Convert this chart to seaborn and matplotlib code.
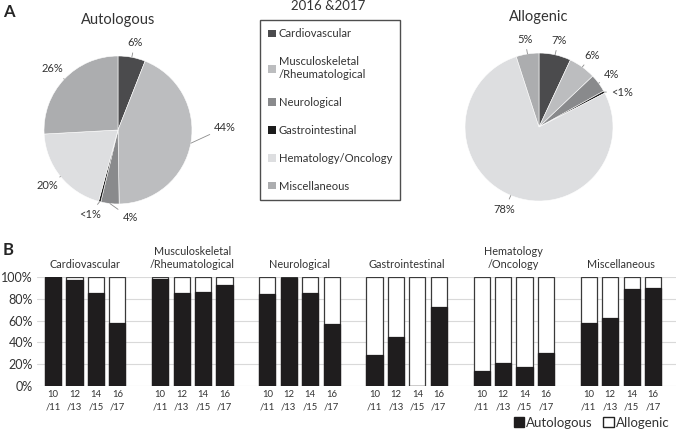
import numpy as np
import pandas as pd
import matplotlib
matplotlib.use("Agg")
import matplotlib.pyplot as plt
import matplotlib.transforms as mtransforms
from matplotlib.patches import Patch
import seaborn as sns

# ---- data ----
legend_labels = ["Cardiovascular", "Musculoskeletal\n/Rheumatological", "Neurological",
                 "Gastrointestinal", "Hematology/Oncology", "Miscellaneous"]
pie_colors = ["#4b4b4d", "#bcbdbf", "#898a8c", "#1c1c1c", "#dddee0", "#acadaf"]

auto_share = [6, 44, 4, 0.5, 20, 26]
auto_text = ["6%", "44%", "4%", "<1%", "20%", "26%"]
allo_share = [7, 6, 4, 0.5, 78, 5]
allo_text = ["7%", "6%", "4%", "<1%", "78%", "5%"]

periods = ["10\n/11", "12\n/13", "14\n/15", "16\n/17"]
group_titles = ["Cardiovascular", "Musculoskeletal\n/Rheumatological", "Neurological",
                "Gastrointestinal", "Hematology\n/Oncology", "Miscellaneous"]
# autologous share per period (allogenic = rest)
cardio = [1.00, 0.97, 0.85, 0.58]
musculo = [0.985, 0.85, 0.86, 0.93]
neuro = [0.84, 0.99, 0.85, 0.57]
gastro = [0.28, 0.45, 0.0, 0.725]
heme = [0.135, 0.21, 0.17, 0.30]
misc = [0.58, 0.62, 0.89, 0.90]

sns.set_theme(style="white")
plt.rcParams["font.family"] = ["Lato", "DejaVu Sans"]
txt_col = "#333333"

fig = plt.figure(figsize=(6.76, 4.29), dpi=100)


# Function to draw one pie with leader-line labels
def draw_pie(rect, shares, texts, title, nudges, radii):
    ax = fig.add_axes(rect)
    wedges, _ = ax.pie(shares, colors=pie_colors, startangle=90, counterclock=False,
                       wedgeprops=dict(edgecolor="white", linewidth=0.4))
    ax.set_aspect("equal")
    for w, t, dn, r in zip(wedges, texts, nudges, radii):
        ang = np.deg2rad((w.theta1 + w.theta2) / 2)
        ang_t = ang + np.deg2rad(dn)
        x0, y0 = np.cos(ang), np.sin(ang)
        x1, y1 = r * np.cos(ang_t), 1.2 * np.sin(ang_t)
        ax.annotate(t, xy=(x0, y0), xytext=(x1, y1), fontsize=8, color=txt_col,
                    ha="center", va="center",
                    arrowprops=dict(arrowstyle="-", color="#8c8c8c", lw=0.6,
                                    shrinkA=1, shrinkB=0))
    ax.text(0, 1.49, title, ha="center", va="center", fontsize=10.5, color=txt_col)
    return ax


draw_pie([0.0377, 0.4814, 0.2737, 0.4312], auto_share, auto_text, "Autologous",
         [0, 12, 14, -4, 0, 0], [1.22, 1.45, 1.22, 1.22, 1.22, 1.22])
draw_pie([0.6605, 0.4883, 0.2737, 0.4312], allo_share, allo_text, "Allogenic",
         [0, 0, 0, -5, 0, 0], [1.22] * 6)

# legend box in the middle
handles = [Patch(facecolor=c, edgecolor="none") for c in pie_colors]
leg = fig.legend(handles, legend_labels, loc="upper left",
                 bbox_to_anchor=(260 / 676, 1 - 20 / 429), fontsize=8.1,
                 labelspacing=1.5, handlelength=0.65, handleheight=0.65,
                 handletextpad=0.25, borderpad=0.75, frameon=True, fancybox=False,
                 borderaxespad=0)
leg.get_frame().set_edgecolor("#222222")
leg.get_frame().set_linewidth(1.0)
for t in leg.get_texts():
    t.set_color(txt_col)
fig.text(328 / 676, 1 - 6 / 429, "2016 &2017", ha="center", va="center",
         fontsize=9.5, color=txt_col)

# ---- stacked bars ----
series = [cardio, musculo, neuro, gastro, heme, misc]
rows = []
for g, vals in enumerate(series):
    for p, v in enumerate(vals):
        rows.append(dict(slot=g * 5 + p, auto=v, total=1.0))
df = pd.DataFrame(rows)

ax = fig.add_axes([37 / 676, 43 / 429, 639 / 676, 109 / 429])
sns.barplot(data=df, x="slot", y="total", native_scale=True, color="white",
            saturation=1, edgecolor="#3a3a3a", linewidth=0.9, width=0.75,
            errorbar=None, ax=ax)
sns.barplot(data=df, x="slot", y="auto", native_scale=True, color="#1f1d1e",
            saturation=1, edgecolor="#1f1d1e", linewidth=0.9, width=0.75,
            errorbar=None, ax=ax)
ax.set_xlim(-0.75, 29.07)
ax.set_ylim(0, 1.0)
ax.set_yticks(np.arange(0, 1.01, 0.2))
ax.set_yticklabels([f"{int(round(v * 100))}%" for v in np.arange(0, 1.01, 0.2)],
                   fontsize=9, color=txt_col)
ax.set_xticks(df["slot"])
ax.set_xticklabels(periods * len(series), fontsize=6.8, color=txt_col,
                   linespacing=1.5)
ax.tick_params(axis="both", length=0, pad=3)
ax.set_xlabel("")
ax.set_ylabel("")
ax.set_axisbelow(True)
ax.yaxis.grid(True, color="#d9d9d9", lw=0.8)
ax.xaxis.grid(False)
for s in ax.spines.values():
    s.set_visible(False)

trans = mtransforms.blended_transform_factory(ax.transData, ax.transAxes)
for g, title in enumerate(group_titles):
    ax.text(g * 5 + 1.5, 1.06, title, transform=trans, ha="center", va="bottom",
            fontsize=7.8, color=txt_col, linespacing=1.25)

bar_handles = [Patch(facecolor="#1f1d1e", edgecolor="#1f1d1e"),
               Patch(facecolor="white", edgecolor="#222222")]
fig.legend(bar_handles, ["Autologous", "Allogenic"], loc="lower right",
           bbox_to_anchor=(1.0, -0.015), ncol=2, fontsize=9.5, frameon=False,
           handlelength=0.8, handleheight=0.8, handletextpad=0.15,
           columnspacing=0.8, borderaxespad=0.1, labelcolor=txt_col)

fig.text(3 / 676, 1 - 12 / 429, "A", fontsize=12, fontweight="bold", va="center")
fig.text(3 / 676, 1 - 250 / 429, "B", fontsize=12, fontweight="bold", va="center")

fig.savefig("out.png", dpi=100)
